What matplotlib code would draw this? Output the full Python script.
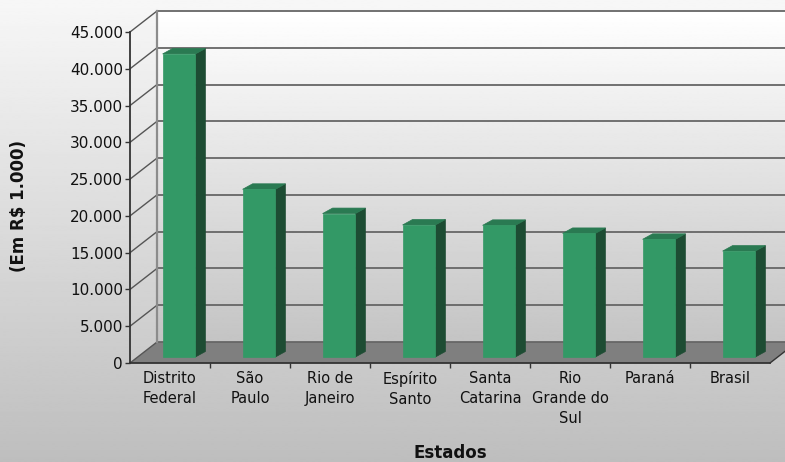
import numpy as np
import matplotlib
matplotlib.use("Agg")
import matplotlib.pyplot as plt
from matplotlib.patches import Polygon, Rectangle
from matplotlib.ticker import FixedLocator, FuncFormatter

# PIB per capita por estado
estados = ["Distrito\nFederal", "São\nPaulo", "Rio de\nJaneiro", "Espírito\nSanto",
           "Santa\nCatarina", "Rio\nGrande do\nSul", "Paraná", "Brasil"]
pib_per_capita = [41200, 22800, 19500, 17950, 17900, 16800, 16000, 14400]
y_ticks = list(range(0, 45001, 5000))
y_title = "(Em R$ 1.000)"
x_title = "Estados"

plt.rcParams['font.family'] = ['DejaVu Sans']

W, H, DPI = 785, 462, 100
fig = plt.figure(figsize=(W / DPI, H / DPI), dpi=DPI)

# figure background: vertical grey gradient
bg = fig.add_axes([0, 0, 1, 1], zorder=0)
bg.imshow(np.linspace(247, 190, 256)[:, None] / 255, cmap='gray', vmin=0, vmax=1,
          aspect='auto', extent=[0, 1, 0, 1], interpolation='bilinear')
bg.axis('off')

ax = fig.add_axes([130 / W, (H - 363) / H, 640 / W, 331 / H], zorder=1)
ax.patch.set_visible(False)
ax.set_autoscale_on(False)
xmin, xmax = -0.5, len(estados) - 0.5
ymax = y_ticks[-1]
ax.set_xlim(xmin, xmax)
ax.set_ylim(0, ymax)


def depth(dx_px, dy_px):
    """Convert a pixel offset into data units of the front plane."""
    inv = ax.transData.inverted()
    o = ax.transData.transform((0, 0))
    return inv.transform(o + np.array([dx_px, dy_px])) - inv.transform(o)


wdx, wdy = depth(27, 21)     # back wall offset
box, boy = depth(9, 6)       # bar front face offset
bdx, bdy = depth(10, 5.5)    # bar depth
bw = 0.41                    # bar width in category units

# back wall with gradient
ax.imshow(np.linspace(255, 196, 256)[:, None] / 255, cmap='gray', vmin=0, vmax=1,
          aspect='auto', interpolation='bilinear',
          extent=[xmin + wdx, xmax + wdx, wdy, ymax + wdy], clip_on=False, zorder=0.2)

# floor
ax.add_patch(Polygon([(xmin, 0), (xmax, 0), (xmax + wdx, wdy), (xmin + wdx, wdy)],
                     closed=True, fc='#7f7f7f', ec='none', clip_on=False, zorder=0.4))

# gridlines on the back wall and on the side wall
grid_kw = dict(color='#666666', lw=1.3, clip_on=False, zorder=0.6, solid_capstyle='butt')
for v in y_ticks:
    ax.plot([xmin + wdx, xmax + wdx], [v + wdy, v + wdy], **grid_kw)
    ax.plot([xmin, xmin + wdx], [v, v + wdy], color='#555555', lw=1.0,
            clip_on=False, zorder=0.6)
ax.plot([xmin + wdx, xmin + wdx], [wdy, ymax + wdy], color='#8c8c8c', lw=1.6,
        clip_on=False, zorder=0.7)
ax.plot([xmax, xmax + wdx], [0, wdy], color='#333333', lw=1.0, clip_on=False, zorder=0.7)

# 3D columns
front_c, top_c, side_c = '#339966', '#2a7a52', '#1d4c33'
for i, v in enumerate(pib_per_capita):
    x0 = i - bw / 2 + box
    y0 = boy
    ax.add_patch(Polygon([(x0 + bw, y0), (x0 + bw + bdx, y0 + bdy),
                          (x0 + bw + bdx, y0 + v + bdy), (x0 + bw, y0 + v)],
                         closed=True, fc=side_c, ec=side_c, lw=0.5, zorder=3))
    ax.add_patch(Polygon([(x0, y0 + v), (x0 + bw, y0 + v),
                          (x0 + bw + bdx, y0 + v + bdy), (x0 + bdx, y0 + v + bdy)],
                         closed=True, fc=top_c, ec=top_c, lw=0.5, zorder=3))
    ax.add_patch(Rectangle((x0, y0), bw, v, fc=front_c, ec=front_c, lw=0.5, zorder=3.1))

# axes
for s in ('top', 'right'):
    ax.spines[s].set_visible(False)
for s in ('left', 'bottom'):
    ax.spines[s].set_color('#333333')
    ax.spines[s].set_linewidth(1.3)

ax.yaxis.set_major_locator(FixedLocator(y_ticks))
ax.yaxis.set_major_formatter(FuncFormatter(lambda v, _: f"{int(v):,}".replace(",", ".")))
ax.tick_params(axis='y', length=3.6, width=1, pad=1.5, labelsize=11,
               color='#333333', labelcolor='#111111')

ax.set_xticks(range(len(estados)))
ax.set_xticklabels(estados, linespacing=1.4)
ax.set_xticks(np.arange(xmin + 1, xmax, 1), minor=True)
ax.tick_params(axis='x', which='major', length=0, pad=6, labelsize=10.5,
               labelcolor='#111111')
ax.tick_params(axis='x', which='minor', length=3.6, width=1, color='#333333')

fig.text(450 / W, 1 - 453 / H, x_title, ha='center', va='center',
         fontsize=12, fontweight='bold', color='#111111')
fig.text(19 / W, 1 - 206 / H, y_title, rotation=90, ha='center', va='center',
         fontsize=12, fontweight='bold', color='#111111')

fig.savefig('out.png', dpi=DPI)
